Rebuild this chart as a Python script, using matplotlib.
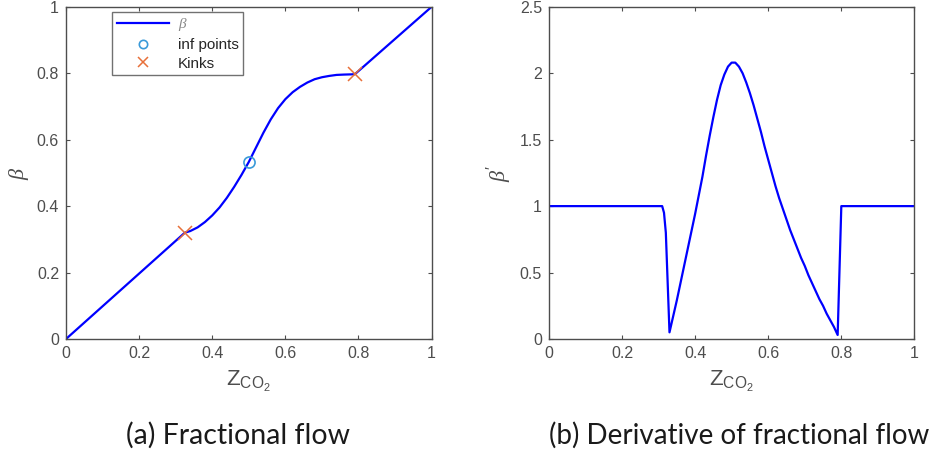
import matplotlib

matplotlib.use('Agg')

import matplotlib.pyplot as plt

plt.rcParams['font.family'] = ['Liberation Sans', 'DejaVu Sans']
plt.rcParams['mathtext.fontset'] = 'custom'
plt.rcParams['mathtext.rm'] = 'Liberation Sans'
plt.rcParams['mathtext.it'] = 'Liberation Serif:italic'

# fractional flow beta(z)
z_beta = [0, 0.325, 0.34, 0.36, 0.38, 0.40, 0.42, 0.44, 0.46, 0.48, 0.50,
          0.52, 0.54, 0.56, 0.58, 0.60, 0.62, 0.64, 0.66, 0.68, 0.70, 0.72,
          0.74, 0.76, 0.79, 1.0]
beta = [0, 0.320, 0.325, 0.336, 0.352, 0.372, 0.396, 0.425, 0.458, 0.494,
        0.533, 0.577, 0.621, 0.661, 0.695, 0.722, 0.743, 0.759, 0.772, 0.782,
        0.788, 0.792, 0.795, 0.796, 0.797, 1.0]

inf_z = [0.501]
inf_beta = [0.534]
kink_z = [0.325, 0.790]
kink_beta = [0.320, 0.797]

# derivative beta'(z)
z_dbeta = [0, 0.31, 0.315, 0.32, 0.33, 0.34, 0.35, 0.36, 0.37, 0.38, 0.39,
           0.40, 0.41, 0.42, 0.43, 0.44, 0.45, 0.46, 0.47, 0.48, 0.49, 0.50,
           0.51, 0.52, 0.53, 0.54, 0.55, 0.56, 0.57, 0.58, 0.59, 0.60, 0.61,
           0.62, 0.63, 0.64, 0.65, 0.66, 0.67, 0.68, 0.69, 0.70, 0.71, 0.72,
           0.73, 0.74, 0.75, 0.76, 0.77, 0.78, 0.79, 0.80, 1.0]
dbeta = [1, 1, 0.95, 0.8, 0.05, 0.17, 0.29, 0.42, 0.55, 0.68, 0.81,
         0.94, 1.08, 1.22, 1.38, 1.53, 1.67, 1.80, 1.91, 1.99, 2.05, 2.08,
         2.08, 2.05, 2.00, 1.93, 1.85, 1.76, 1.66, 1.56, 1.45, 1.35, 1.25,
         1.15, 1.06, 0.98, 0.90, 0.82, 0.75, 0.68, 0.61, 0.55, 0.48, 0.42,
         0.36, 0.30, 0.25, 0.19, 0.14, 0.09, 0.03, 1.0, 1.0]

x_ticks = [0, 0.2, 0.4, 0.6, 0.8, 1]
x_ticklabels = ['0', '0.2', '0.4', '0.6', '0.8', '1']
ya_ticks = [0, 0.2, 0.4, 0.6, 0.8, 1]
ya_ticklabels = ['0', '0.2', '0.4', '0.6', '0.8', '1']
yb_ticks = [0, 0.5, 1, 1.5, 2, 2.5]
yb_ticklabels = ['0', '0.5', '1', '1.5', '2', '2.5']

GREY = '#262626'
TICK_GREY = '#4d4d4d'


def style_axes(ax):
    for s in ax.spines.values():
        s.set_color(TICK_GREY)
        s.set_linewidth(1.0)
    ax.tick_params(direction='in', top=True, right=True, length=3,
                   width=0.8, color=TICK_GREY, labelcolor=TICK_GREY,
                   labelsize=11.5, pad=5)


fig = plt.figure(figsize=(9.35, 4.55), dpi=100)
ax_a = fig.add_axes([0.0706, 0.255, 0.391, 0.730])
ax_b = fig.add_axes([0.587, 0.255, 0.391, 0.730])

# (a) fractional flow
ax_a.plot(z_beta, beta, color='#0000ff', linewidth=1.6, label=r'$\beta$')
ax_a.plot(inf_z, inf_beta, 'o', markerfacecolor='none',
          markeredgecolor='#3a9ad9', markersize=8, markeredgewidth=1.2,
          linestyle='none', label='inf points')
ax_a.plot(kink_z, kink_beta, 'x', color='#e8703a', markersize=10,
          markeredgewidth=1.1, linestyle='none', label='Kinks')
ax_a.set_xlim(0, 1)
ax_a.set_ylim(0, 1)
ax_a.set_xticks(x_ticks)
ax_a.set_xticklabels(x_ticklabels)
ax_a.set_yticks(ya_ticks)
ax_a.set_yticklabels(ya_ticklabels)
style_axes(ax_a)
ax_a.set_xlabel(r'$\mathrm{Z_{CO_2}}$', fontsize=16, color=TICK_GREY,
                labelpad=6)
ax_a.set_ylabel(r'$\beta$', fontsize=16, color=TICK_GREY, labelpad=4)
leg = ax_a.legend(loc='upper left', bbox_to_anchor=(0.126, 0.985),
                  fontsize=11, frameon=True, fancybox=False,
                  handlelength=3.4, borderpad=0.3, labelspacing=0.3,
                  handletextpad=0.6, borderaxespad=0, markerscale=0.75)
leg.get_frame().set_edgecolor(TICK_GREY)
leg.get_frame().set_linewidth(1.0)
for txt in leg.get_texts():
    txt.set_color(GREY)
leg.get_texts()[0].set_color('#888888')

# (b) derivative
ax_b.plot(z_dbeta, dbeta, color='#0000ff', linewidth=1.6)
ax_b.set_xlim(0, 1)
ax_b.set_ylim(0, 2.5)
ax_b.set_xticks(x_ticks)
ax_b.set_xticklabels(x_ticklabels)
ax_b.set_yticks(yb_ticks)
ax_b.set_yticklabels(yb_ticklabels)
style_axes(ax_b)
ax_b.set_xlabel(r'$\mathrm{Z_{CO_2}}$', fontsize=16, color=TICK_GREY,
                labelpad=6)
ax_b.set_ylabel(r"$\beta'$", fontsize=16, color=TICK_GREY, labelpad=4)

fig.text(0.2545, 0.044, '(a) Fractional flow', ha='center', va='center',
         fontsize=20.5, family=['Lato', 'DejaVu Sans'], color='#1a1a1a')
fig.text(0.79, 0.044, '(b) Derivative of fractional flow', ha='center',
         va='center', fontsize=20, family=['Lato', 'DejaVu Sans'],
         color='#1a1a1a')

fig.savefig('out.png', dpi=100)
